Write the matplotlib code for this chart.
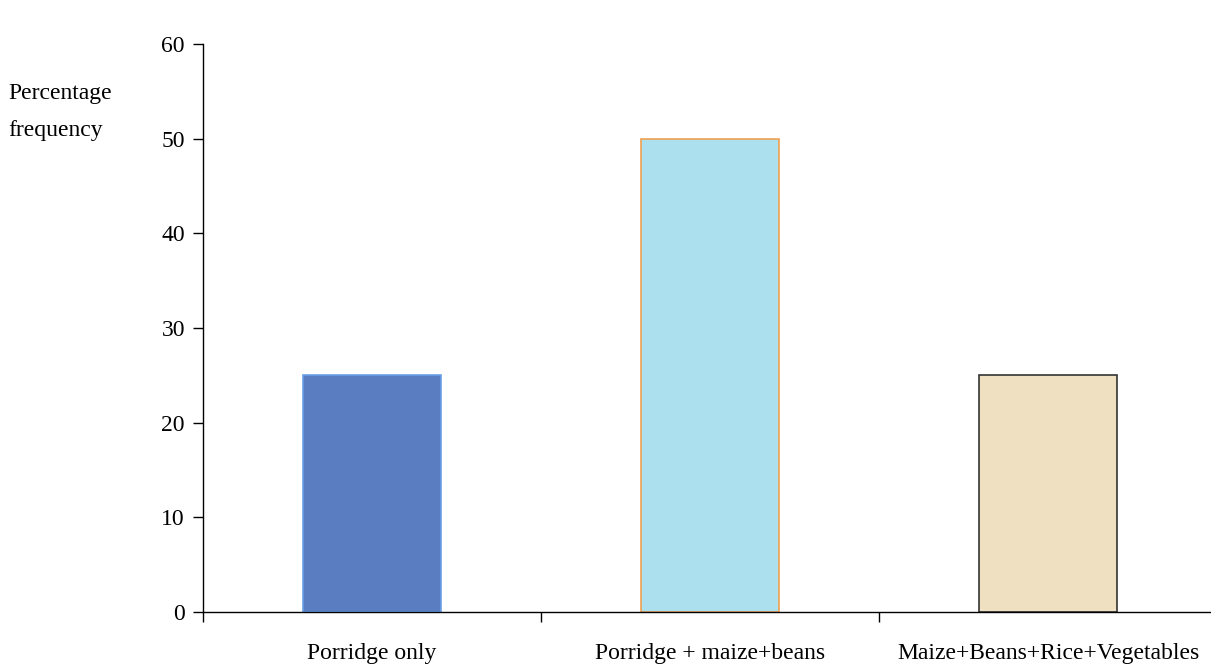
import numpy as np
import matplotlib.pyplot as plt

# data
categories = ['Porridge only', 'Porridge + maize+beans', 'Maize+Beans+Rice+Vegetables']
values = [25, 50, 25]
y_ticks = [0, 10, 20, 30, 40, 50, 60]

bar_colors = ['#5a7cc0', '#ade0ee', '#efe0c2']
edge_colors = ['#6a9ee6', '#f0a050', '#333333']

plt.rcParams['font.family'] = ['Liberation Serif', 'DejaVu Serif']

fig = plt.figure(figsize=(12.11, 6.66), dpi=100)
ax = fig.add_axes([203/1211, 54/666, 1014/1211, 568/666])

x = np.arange(len(categories))
ax.bar(x, values, width=0.41, color=bar_colors, edgecolor=edge_colors, linewidth=1.2)

ax.set_xlim(-0.5, len(categories) - 0.5)
ax.set_ylim(0, 60)
ax.set_yticks(y_ticks)

ax.set_xticks(x)
ax.set_xticklabels(categories)
ax.set_xticks(np.arange(-0.5, len(categories)), minor=True)
ax.tick_params(axis='x', which='major', length=0, pad=22, labelsize=17)
ax.tick_params(axis='x', which='minor', length=7, direction='out', width=1)
ax.tick_params(axis='y', length=7, width=1, pad=6, labelsize=17)

for s in ['top', 'right']:
    ax.spines[s].set_visible(False)
for s in ['left', 'bottom']:
    ax.spines[s].set_linewidth(1)

fig.text(8/1211, 1 - 112/666, 'Percentage\nfrequency', fontsize=17,
         ha='left', va='center', linespacing=1.95)

fig.savefig('out.png', dpi=100)
